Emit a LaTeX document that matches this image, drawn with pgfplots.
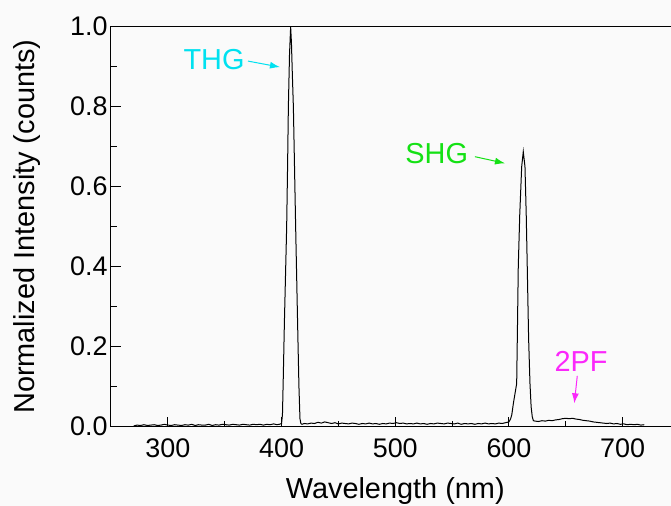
\documentclass[border=0pt]{standalone}
\usepackage{fontspec}
\setmainfont{Liberation Sans}
\usepackage{pgfplots}
\pgfplotsset{compat=1.18}
\usetikzlibrary{arrows.meta}
\definecolor{thgc}{RGB}{0,225,240}
\definecolor{shgc}{RGB}{20,225,20}
\definecolor{pfc}{RGB}{250,40,250}
\definecolor{bgc}{RGB}{250,250,250}
\begin{document}
\begin{tikzpicture}
\fill[bgc] (-111bp,-79.3bp) rectangle (560bp,426.7bp);
\begin{scope}
\clip (-111bp,-79.3bp) rectangle (560bp,426.7bp);
\begin{axis}[
  scale only axis, width=568.5bp, height=400bp,
  xmin=250, xmax=750, ymin=0, ymax=1,
  xtick={300,400,500,600,700},
  ytick={0,0.2,0.4,0.6,0.8,1.0},
  minor x tick num=1, minor y tick num=1,
  xtick pos=left, ytick pos=left,
  tick align=inside, major tick length=10bp, minor tick length=6bp,
  tick style={black, line width=1bp},
  axis line style={line width=1bp},
  /pgf/number format/assume math mode=true,
  ticklabel style={font=\fontsize{27}{30}\selectfont},
  xticklabel style={yshift=-8bp},
  yticklabel style={/pgf/number format/fixed, /pgf/number format/precision=1, /pgf/number format/fixed zerofill},
  xlabel={Wavelength (nm)},
  ylabel={Normalized Intensity (counts)},
  every axis x label/.style={at={(axis description cs:0.5,0)}, yshift=-64bp, anchor=center, font=\fontsize{29}{32}\selectfont},
  every axis y label/.style={at={(axis description cs:0,0.5)}, xshift=-84bp, rotate=90, anchor=center, font=\fontsize{29}{32}\selectfont},
  clip=false,
]
\addplot[black, line width=1bp, mark=none] table {
270 0.002
273 0.004
276 0.003
279 0.005
282 0.003
285 0.004
288 0.005
291 0.003
294 0.004
297 0.006
300 0.004
303 0.003
306 0.005
309 0.004
312 0.003
315 0.005
318 0.004
321 0.006
324 0.003
327 0.005
330 0.004
333 0.004
336 0.006
339 0.003
342 0.005
345 0.004
348 0.006
351 0.005
354 0.004
357 0.006
360 0.005
363 0.004
366 0.006
369 0.005
372 0.004
375 0.006
378 0.005
381 0.006
384 0.004
387 0.006
390 0.005
393 0.007
396 0.005
398 0.006
400 0.008
400.8 0.03
401.5 0.12
402.5 0.26
403.5 0.38
404.5 0.50
405.3 0.65
406 0.80
407 0.93
408 1.0
408.7 0.96
409.5 0.88
410.4 0.80
411.4 0.65
412.4 0.50
413.4 0.36
414.4 0.22
415.3 0.10
416.2 0.02
417 0.008
418 0.006
420 0.008
423 0.007
426 0.009
429 0.008
432 0.011
435 0.009
438 0.012
441 0.010
444 0.008
447 0.010
450 0.007
453 0.009
456 0.008
459 0.007
462 0.009
465 0.008
468 0.006
471 0.008
474 0.007
477 0.009
480 0.007
483 0.008
486 0.006
489 0.008
492 0.007
495 0.009
498 0.008
501 0.010
504 0.008
507 0.009
510 0.007
513 0.008
516 0.007
519 0.009
522 0.007
525 0.008
528 0.006
531 0.008
534 0.007
537 0.009
540 0.008
543 0.007
546 0.009
549 0.008
552 0.007
555 0.009
558 0.006
561 0.008
564 0.007
567 0.008
570 0.006
573 0.008
576 0.007
579 0.009
582 0.007
585 0.008
588 0.007
591 0.009
594 0.008
597 0.010
600 0.012
601.5 0.02
602.5 0.03
604 0.06
606.8 0.108
607.5 0.25
608.2 0.40
609.5 0.53
611.2 0.65
612.6 0.6875
614.1 0.65
615.2 0.53
616.1 0.40
617.3 0.22
618.5 0.108
619.5 0.05
620.5 0.025
621.5 0.015
623 0.014
626 0.013
629 0.015
632 0.014
635 0.016
638 0.015
641 0.017
644 0.018
647 0.020
650 0.021
653 0.020
656 0.021
659 0.019
662 0.018
665 0.016
668 0.015
671 0.014
674 0.012
677 0.011
680 0.010
683 0.009
686 0.008
689 0.009
692 0.007
695 0.008
698 0.006
701 0.007
704 0.005
707 0.006
710 0.005
713 0.006
716 0.004
719 0.005
};
\node[text=thgc, font=\fontsize{29}{32}\selectfont] at (axis cs:340.6,0.919) {THG};
\draw[thgc, line width=1bp, -{Latex[length=10bp,width=7bp]}] (axis cs:370.5,0.914) -- (axis cs:398.6,0.899);
\node[text=shgc, font=\fontsize{29}{32}\selectfont] at (axis cs:536.5,0.6835) {SHG};
\draw[shgc, line width=1bp, -{Latex[length=10bp,width=7bp]}] (axis cs:570.1,0.675) -- (axis cs:596.5,0.6585);
\node[text=pfc, font=\fontsize{29}{32}\selectfont] at (axis cs:663.4,0.1625) {2PF};
\draw[pfc, line width=1bp, -{Latex[length=10bp,width=7bp]}] (axis cs:660.1,0.127) -- (axis cs:657.5,0.0585);
\end{axis}
\end{scope}
\pgfresetboundingbox
\useasboundingbox (-111bp,-79.3bp) rectangle (560bp,426.7bp);
\end{tikzpicture}
\end{document}
